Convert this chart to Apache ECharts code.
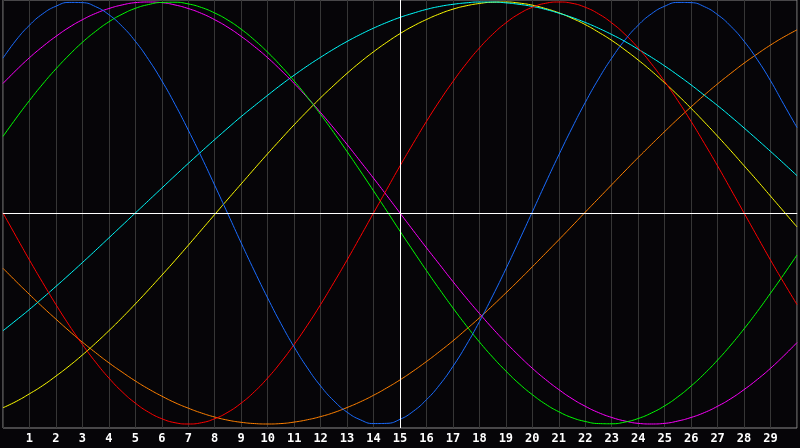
<!DOCTYPE html>
<html lang="en">

<head>
  <meta charset="UTF-8" />
  <title>Biorhythm</title>
  <script src="https://cdn.jsdelivr.net/npm/echarts@6/dist/echarts.min.js"></script>
  <style>
    body {
      margin: 0;
      background-color: #060508;
    }

    #chart {
      width: 800px;
      height: 448px;
    }
  </style>
</head>

<body>
  <div id="chart"></div>

  <script>
    // half-day steps, day 0 .. day 30
    const days = [0, 0.5, 1, 1.5, 2, 2.5, 3, 3.5, 4, 4.5, 5, 5.5, 6, 6.5, 7, 7.5, 8, 8.5, 9, 9.5,
      10, 10.5, 11, 11.5, 12, 12.5, 13, 13.5, 14, 14.5, 15, 15.5, 16, 16.5, 17, 17.5, 18, 18.5, 19, 19.5,
      20, 20.5, 21, 21.5, 22, 22.5, 23, 23.5, 24, 24.5, 25, 25.5, 26, 26.5, 27, 27.5, 28, 28.5, 29, 29.5, 30];

    const blue = [0.734, 0.820, 0.890, 0.944, 0.980, 0.998, 0.997, 0.978, 0.940, 0.885, 0.814, 0.727, 0.627, 0.515, 0.393, 0.265,
      0.131, -0.005, -0.142, -0.275, -0.403, -0.524, -0.635, -0.734, -0.820, -0.890, -0.944, -0.980, -0.998, -0.997, -0.978,
      -0.940, -0.885, -0.814, -0.727, -0.627, -0.515, -0.393, -0.265, -0.131, 0.005, 0.142, 0.275, 0.403, 0.524, 0.635,
      0.734, 0.820, 0.890, 0.944, 0.980, 0.998, 0.997, 0.978, 0.940, 0.885, 0.814, 0.727, 0.627, 0.515, 0.405];
    const green = [0.363, 0.450, 0.533, 0.611, 0.683, 0.749, 0.809, 0.861, 0.906, 0.942, 0.970, 0.988, 0.998, 0.999, 0.991, 0.974,
      0.948, 0.914, 0.871, 0.820, 0.762, 0.697, 0.626, 0.549, 0.467, 0.381, 0.291, 0.199, 0.105, 0.010, -0.086,
      -0.180, -0.273, -0.363, -0.450, -0.533, -0.611, -0.683, -0.749, -0.809, -0.861, -0.906, -0.942, -0.970, -0.988, -0.998,
      -0.999, -0.991, -0.974, -0.948, -0.914, -0.871, -0.820, -0.762, -0.697, -0.626, -0.549, -0.467, -0.380, -0.291, -0.199];
    const magenta = [0.614, 0.677, 0.736, 0.789, 0.837, 0.880, 0.916, 0.946, 0.969, 0.986, 0.997, 1.000, 0.997, 0.986, 0.969, 0.946,
      0.916, 0.880, 0.837, 0.789, 0.736, 0.677, 0.614, 0.547, 0.476, 0.402, 0.325, 0.245, 0.165, 0.083, 0.000,
      -0.083, -0.165, -0.245, -0.325, -0.402, -0.476, -0.547, -0.614, -0.677, -0.736, -0.789, -0.837, -0.880, -0.916, -0.946,
      -0.969, -0.986, -0.997, -1.000, -0.997, -0.986, -0.969, -0.946, -0.916, -0.880, -0.837, -0.789, -0.736, -0.677, -0.614];
    const red = [0.000, -0.112, -0.223, -0.330, -0.434, -0.532, -0.623, -0.707, -0.782, -0.847, -0.901, -0.944, -0.975, -0.994, -1.000,
      -0.994, -0.975, -0.944, -0.901, -0.847, -0.782, -0.707, -0.623, -0.532, -0.434, -0.330, -0.223, -0.112, 0.000,
      0.112, 0.223, 0.330, 0.434, 0.532, 0.623, 0.707, 0.782, 0.847, 0.901, 0.944, 0.975, 0.994, 1.000,
      0.994, 0.975, 0.944, 0.901, 0.847, 0.782, 0.707, 0.623, 0.532, 0.434, 0.330, 0.223, 0.112, 0.000,
      -0.112, -0.223, -0.330, -0.434];
    const cyan = [-0.558, -0.508, -0.457, -0.403, -0.348, -0.292, -0.235, -0.177, -0.118, -0.059, 0.000, 0.059, 0.118, 0.177, 0.235,
      0.292, 0.348, 0.403, 0.457, 0.508, 0.558, 0.607, 0.653, 0.697, 0.738, 0.777, 0.813, 0.846, 0.876, 0.903, 0.927,
      0.947, 0.965, 0.979, 0.989, 0.996, 1.000, 1.000, 0.996, 0.989, 0.979, 0.965, 0.947, 0.927, 0.903, 0.876,
      0.846, 0.813, 0.776, 0.738, 0.697, 0.653, 0.607, 0.558, 0.509, 0.457, 0.403, 0.348, 0.292, 0.235, 0.177];
    const yellow = [-0.923, -0.893, -0.857, -0.818, -0.773, -0.725, -0.673, -0.617, -0.558, -0.496, -0.431, -0.364, -0.295, -0.225, -0.153,
      -0.080, -0.007, 0.066, 0.138, 0.210, 0.281, 0.350, 0.418, 0.483, 0.546, 0.605, 0.662, 0.715, 0.764, 0.809, 0.850,
      0.886, 0.917, 0.944, 0.966, 0.982, 0.993, 0.999, 1.000, 0.995, 0.985, 0.969, 0.949, 0.923, 0.893, 0.857,
      0.818, 0.773, 0.725, 0.673, 0.617, 0.558, 0.496, 0.431, 0.364, 0.295, 0.224, 0.153, 0.080, 0.007, -0.066];
    const orange = [-0.262, -0.325, -0.386, -0.446, -0.503, -0.559, -0.612, -0.662, -0.710, -0.754, -0.796, -0.834, -0.868, -0.899, -0.925,
      -0.948, -0.967, -0.982, -0.992, -0.998, -1.000, -0.998, -0.991, -0.980, -0.965, -0.946, -0.922, -0.895, -0.864, -0.829, -0.791,
      -0.749, -0.704, -0.656, -0.606, -0.552, -0.497, -0.439, -0.379, -0.318, -0.255, -0.191, -0.127, -0.062, 0.004, 0.069,
      0.134, 0.199, 0.263, 0.325, 0.386, 0.446, 0.503, 0.559, 0.612, 0.662, 0.710, 0.754, 0.796, 0.834, 0.868];

    const today = 15;

    const chart = echarts.init(document.getElementById('chart'));

    function line(values, color) {
      return {
        type: 'line',
        data: days.map((d, i) => [d, values[i]]),
        smooth: true,
        showSymbol: false,
        silent: true,
        lineStyle: { color: color, width: 1 }
      };
    }

    const series = [
      line(orange, '#ff8000'),
      line(yellow, '#ffff00'),
      line(cyan, '#00ffff'),
      line(magenta, '#ff00ff'),
      line(green, '#00ff00'),
      line(red, '#ff0000'),
      line(blue, '#1a6cff')
    ];

    // white cross: today and the zero line
    series[0].markLine = {
      silent: true,
      symbol: 'none',
      label: { show: false },
      lineStyle: { color: '#ffffff', width: 1, type: 'solid' },
      data: [{ xAxis: today }, { yAxis: 0 }]
    };

    chart.setOption({
      backgroundColor: '#060508',
      animation: false,
      grid: {
        left: 0,
        right: 0,
        top: 0,
        bottom: 20,
        show: true,
        borderColor: '#8a8a8a',
        borderWidth: 1
      },
      xAxis: {
        type: 'value',
        min: 0,
        max: 30,
        interval: 1,
        axisLine: { show: true, lineStyle: { color: '#a0a0a0' } },
        axisTick: { show: false },
        splitLine: { show: true, lineStyle: { color: '#363636', width: 1 } },
        axisLabel: {
          color: '#ffffff',
          fontFamily: 'DejaVu Sans Mono',
          fontWeight: 'bold',
          fontSize: 12,
          margin: 5,
          formatter: v => (v === 0 || v === 30) ? '' : String(v)
        }
      },
      yAxis: {
        type: 'value',
        min: -1.019,
        max: 1.0095,
        show: false,
        splitLine: { show: false }
      },
      series: series
    });
  </script>
</body>

</html>
